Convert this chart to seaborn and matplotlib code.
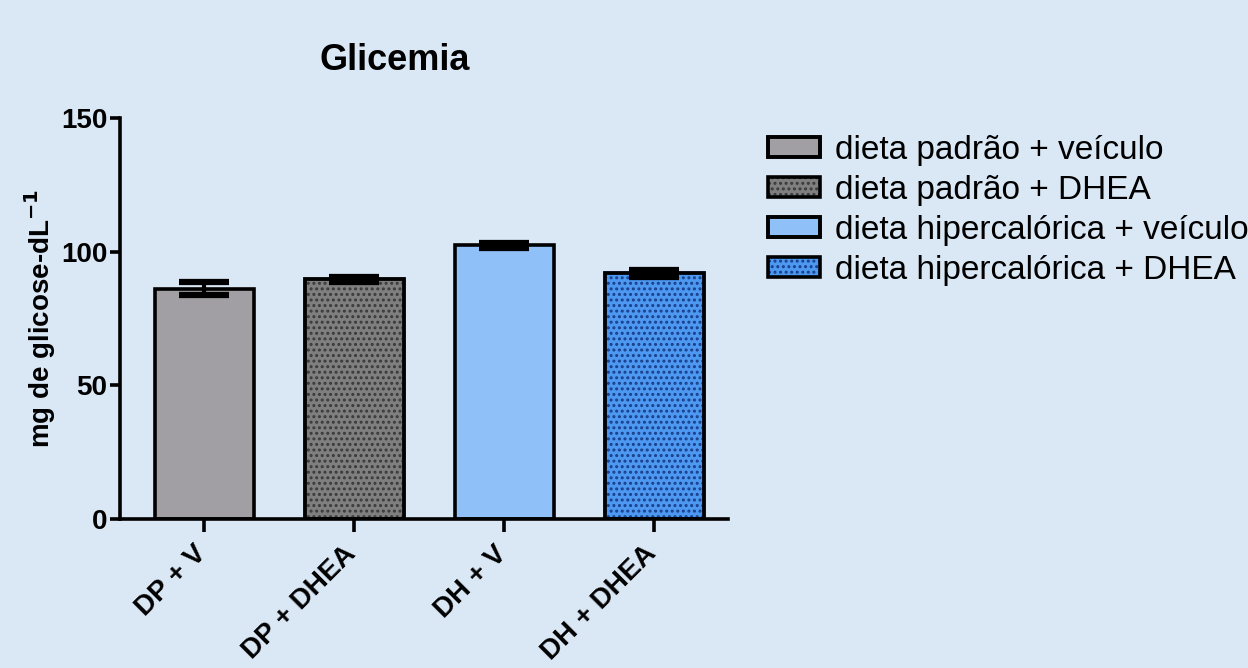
import matplotlib
matplotlib.use("Agg")
import matplotlib.pyplot as plt
import matplotlib.transforms as mtransforms
import seaborn as sns
import pandas as pd
from matplotlib.patches import Patch, Rectangle
from matplotlib.legend_handler import HandlerTuple

# Glycemia per treatment group (mean ± SEM)
grupos = ["DP + V", "DP + DHEA", "DH + V", "DH + DHEA"]
legenda = ["dieta padrão + veículo", "dieta padrão + DHEA",
           "dieta hipercalórica + veículo", "dieta hipercalórica + DHEA"]
glicemia = [86.2, 89.6, 102.4, 92.0]
sem = [2.3, 1.0, 0.9, 1.3]
cores = ["#a19fa4", "#7f7f7f", "#90c0f8", "#4d98f0"]
cores_pontos = ["#a19fa4", "#3a3a3a", "#90c0f8", "#1a3f8a"]
hachuras = ["", "...", "", "..."]

sns.set_theme(style="ticks")
plt.rcParams["font.family"] = ["Liberation Sans", "DejaVu Sans"]
plt.rcParams["hatch.linewidth"] = 1.4
plt.rcParams["text.color"] = "black"
plt.rcParams["axes.labelcolor"] = "black"
plt.rcParams["xtick.color"] = "black"
plt.rcParams["ytick.color"] = "black"

fundo = "#dae7f5"
fig = plt.figure(figsize=(12.48, 6.68), dpi=100, facecolor=fundo)
ax = fig.add_axes([120 / 1248, 149 / 668, 608 / 1248, 401 / 668])
ax.set_facecolor(fundo)

df = pd.DataFrame({"grupo": grupos, "glicemia": glicemia})
sns.barplot(data=df, x="grupo", y="glicemia", hue="grupo", palette=cores,
            order=grupos, hue_order=grupos, width=0.66, saturation=1,
            edgecolor="black", linewidth=2.6, errorbar=None, legend=False,
            ax=ax, zorder=2)

# dotted fill: hatch drawn in a darker shade, black outline laid on top
for p, h, cp in zip(list(ax.patches), hachuras, cores_pontos):
    if h:
        p.set_hatch(h)
        p.set_edgecolor(cp)
        ax.add_patch(Rectangle(p.get_xy(), p.get_width(), p.get_height(),
                               facecolor="none", edgecolor="black",
                               linewidth=2.6, zorder=2.5))

ax.errorbar(range(len(grupos)), glicemia, yerr=sem, fmt="none",
            ecolor="black", elinewidth=3, capsize=18, capthick=4.5, zorder=3)

ax.set_ylim(0, 150)
ax.set_xlim(-0.56, 3.49)
ax.set_yticks([0, 50, 100, 150])
ax.set_xlabel("")
ax.set_ylabel("mg de glicose-dL$^{\\mathbf{-1}}$", fontsize=20, fontweight="bold",
              labelpad=2)
sns.despine(ax=ax)
for s in ("left", "bottom"):
    ax.spines[s].set_linewidth(2.6)
    ax.spines[s].set_color("black")
ax.tick_params(axis="y", width=2.6, length=7, labelsize=20, pad=2)
ax.tick_params(axis="x", width=2.6, length=9, labelsize=20, pad=3)
for lbl in ax.get_yticklabels():
    lbl.set_fontweight("bold")
ax.set_xticks(range(len(grupos)))
ax.set_xticklabels(grupos, rotation=45, ha="right", rotation_mode="anchor",
                   fontweight="bold", fontsize=20)
desloc = mtransforms.ScaledTranslation(-11 / 100, -5 / 100, fig.dpi_scale_trans)
for lbl in ax.get_xticklabels():
    lbl.set_transform(lbl.get_transform() + desloc)

fig.text(395 / 1248, 1 - 61 / 668, "Glicemia", fontsize=26, fontweight="bold",
         ha="center", va="center")

alcas = []
for c, h, cp in zip(cores, hachuras, cores_pontos):
    alcas.append((Patch(facecolor=c, edgecolor=cp if h else "black", hatch=h,
                        linewidth=0 if h else 2.6),
                  Patch(facecolor="none", edgecolor="black", linewidth=2.6)))
fig.legend(alcas, legenda, loc="upper left",
           bbox_to_anchor=(768 / 1248, 1 - 135 / 668),
           handler_map={tuple: HandlerTuple(ndivide=1)},
           frameon=False, fontsize=24, handlelength=1.55, handleheight=0.55,
           labelspacing=0.27, handletextpad=0.45, borderaxespad=0, borderpad=0)

fig.savefig("out.png", dpi=100, facecolor=fundo)
